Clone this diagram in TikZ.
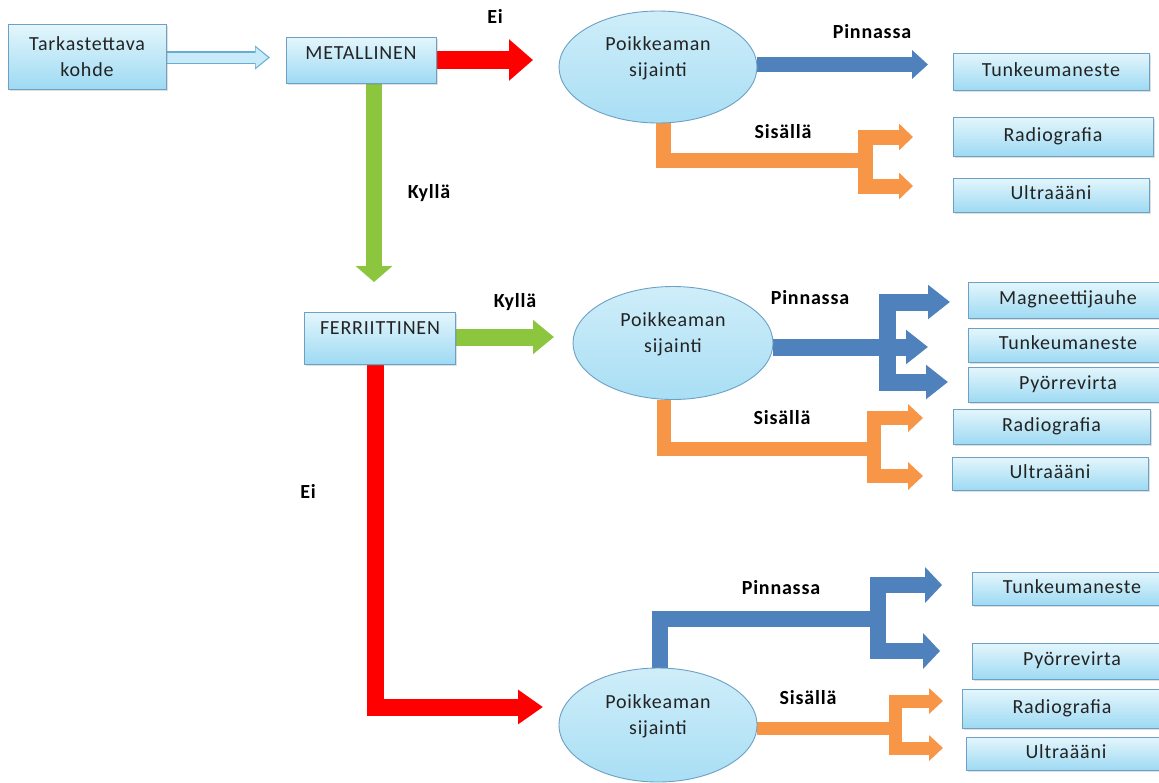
\documentclass[tikz,border=0pt]{standalone}
\usepackage{fontspec}
\setmainfont[LetterSpace=4]{Carlito}
\usepackage{xcolor}
\usepackage{tikz}
\usetikzlibrary{arrows.meta,shapes.geometric,shadows,backgrounds}

\definecolor{boxtop}{RGB}{228,246,252}
\definecolor{boxbottom}{RGB}{158,218,243}
\definecolor{boxedge}{RGB}{108,160,196}
\definecolor{signred}{RGB}{255,0,0}
\definecolor{signgreen}{RGB}{140,198,63}
\definecolor{signblue}{RGB}{79,129,189}
\definecolor{signorange}{RGB}{247,150,70}
\definecolor{paleblue}{RGB}{200,235,249}
\definecolor{paleedge}{RGB}{104,172,212}
\definecolor{textgray}{RGB}{35,35,35}

\newcommand{\diagfont}{\fontsize{20}{26}\selectfont}
\newcommand{\liftby}[2]{\raisebox{#1}[\height][\depth]{#2}}
\newcommand{\sijainti}{\liftby{9pt}{\begin{tabular}{@{}c@{}}Poikkeaman\\sijainti\end{tabular}}}

\tikzset{
  method/.style={rectangle, draw=boxedge, line width=0.9pt, top color=boxtop,
    bottom color=boxbottom, text=textgray, minimum width=196pt, minimum height=35pt,
    inner sep=0pt, text height=13pt, text depth=4pt,
    drop shadow={opacity=0.25, shadow xshift=1.5pt, shadow yshift=-2pt}},
  place/.style={ellipse, draw=boxedge, line width=0.9pt, top color=boxtop!70!boxbottom,
    bottom color=boxbottom!85!boxtop, text=textgray, minimum width=198pt,
    minimum height=112pt, inner sep=0pt},
  answer/.style={font=\diagfont\bfseries, text=black},
  fat/.style n args={3}{line width=#1, line join=miter, -{Triangle[width=#2, length=#3]}},
}

\begin{document}
\begin{tikzpicture}[x=1pt, y=-1pt, font=\diagfont]
\useasboundingbox (0,0) rectangle (1159,782);

% questions
\node[method, minimum width=158pt, minimum height=65pt, align=center,
  text height=, text depth=] (kohde) at (87,56.5) {Tarkastettava\\kohde};
\node[method, minimum width=150pt, minimum height=46pt] (metal) at (361,60) {\liftby{5pt}{METALLINEN}};
\node[method, minimum width=151pt, minimum height=52pt] (ferri) at (380,338) {\liftby{8pt}{FERRIITTINEN}};

% defect location
\node[place] (sij1) at (658,67) {\sijainti};
\node[place, minimum width=200pt, minimum height=113pt] (sij2) at (673,343) {\sijainti};
\node[place, minimum height=114pt] (sij3) at (658,725) {\sijainti};

% methods
\node[method, minimum height=37pt] (tunk1) at (1051,71.5) {Tunkeumaneste};
\node[method, minimum width=200pt, minimum height=39pt] (radio1) at (1053,136.5) {Radiografia};
\node[method, minimum height=34pt] (ultra1) at (1051,195) {Ultraääni};
\node[method, minimum width=200pt, minimum height=36pt] (magn) at (1068,300) {Magneettijauhe};
\node[method, minimum width=200pt, minimum height=34pt] (tunk2) at (1068,345) {Tunkeumaneste};
\node[method, minimum width=200pt, minimum height=35pt] (pyor2) at (1068,384.5) {Pyörrevirta};
\node[method, minimum width=197pt, minimum height=35pt] (radio2) at (1051.5,426.5) {Radiografia};
\node[method, minimum height=33pt] (ultra2) at (1050,473.5) {Ultraääni};
\node[method, minimum width=200pt, minimum height=33pt] (tunk3) at (1072,588.5) {Tunkeumaneste};
\node[method, minimum width=200pt, minimum height=36pt] (pyor3) at (1072,661) {Pyörrevirta};
\node[method, minimum width=200pt, minimum height=39pt] (radio3) at (1062,708.5) {Radiografia};
\node[method, minimum width=200pt, minimum height=33pt] (ultra3) at (1066,753.5) {Ultraääni};

% answers
\node[answer] (ei1) at (495,16) {Ei};
\node[answer] (kylla1) at (429,193) {Kyllä};
\node[answer] (kylla2) at (515,302) {Kyllä};
\node[answer] (ei2) at (308,491) {Ei};
\node[answer] (pin1) at (872,32) {Pinnassa};
\node[answer] (sis1) at (783,132) {Sisällä};
\node[answer] (pin2) at (810,298) {Pinnassa};
\node[answer] (sis2) at (782,418) {Sisällä};
\node[answer] (pin3) at (781,588) {Pinnassa};
\node[answer] (sis3) at (808,698) {Sisällä};

% arrow ends and branch points
\coordinate (t0) at (270,57.5);
\coordinate (rtip1) at (533,60);
\coordinate (gtip1) at (374,282);
\coordinate (gtip2) at (554,337);
\coordinate (rtip2) at (543,707);
\coordinate (btip1) at (928,64.5);
\coordinate (oj1) at (865,160);
\coordinate (otip1a) at (913,137);
\coordinate (otip1b) at (913,186);
\coordinate (bj2) at (887,347);
\coordinate (btip2a) at (950,302);
\coordinate (btip2b) at (928,347);
\coordinate (btip2c) at (948,382);
\coordinate (oj2) at (874,449);
\coordinate (otip2a) at (923,418);
\coordinate (otip2b) at (923,476);
\coordinate (bj3) at (878,619);
\coordinate (btip3a) at (942,585);
\coordinate (btip3b) at (940,651);
\coordinate (oj3) at (895,728);
\coordinate (otip3a) at (943,701);
\coordinate (otip3b) at (943,748);

\begin{scope}[on background layer]
\fill[white] (0,0) rectangle (1159,782);
% start
\draw[line width=12.5pt, paleedge, -{Triangle[width=23pt, length=15pt]}] (kohde.east |- t0) -- (t0);
\draw[line width=10pt, paleblue, -{Triangle[width=19.5pt, length=12.5pt]}] (kohde.east |- t0) -- ([xshift=-2pt]t0);
% metallinen / ferriittinen
\draw[fat={18pt}{40pt}{24pt}, signred] (metal.east |- rtip1) -- (rtip1);
\draw[fat={16pt}{36pt}{16pt}, signgreen] (metal.south -| gtip1) -- (gtip1);
\draw[fat={17pt}{33pt}{21pt}, signgreen] (ferri.east |- gtip2) -- (gtip2);
\draw[fat={17pt}{33pt}{25pt}, signred] ([xshift=-4.5pt]ferri.south) |- (rtip2);
% first location
\draw[fat={15pt}{28pt}{16pt}, signblue] (sij1.east |- btip1) -- (btip1);
\draw[line width=15pt, line join=miter, signorange] ([xshift=5pt]sij1.south) |- (oj1);
\draw[fat={15pt}{26pt}{14pt}, signorange] (oj1) |- (otip1a);
\draw[fat={15pt}{26pt}{14pt}, signorange] (oj1) |- (otip1b);
% second location
\draw[fat={17pt}{33pt}{22pt}, signblue] (sij2.east |- bj2) -- (btip2b);
\draw[fat={17pt}{33pt}{22pt}, signblue] (bj2) |- (btip2a);
\draw[fat={17pt}{33pt}{22pt}, signblue] (bj2) |- (btip2c);
\draw[line width=14pt, line join=miter, signorange] ([xshift=-9pt]sij2.south) |- (oj2);
\draw[fat={14pt}{27pt}{15pt}, signorange] (oj2) |- (otip2a);
\draw[fat={14pt}{27pt}{15pt}, signorange] (oj2) |- (otip2b);
% third location
\draw[line width=16pt, line join=miter, signblue] ([xshift=2pt]sij3.north) |- (bj3);
\draw[fat={16pt}{35pt}{17pt}, signblue] (bj3) |- (btip3a);
\draw[fat={16pt}{35pt}{17pt}, signblue] (bj3) |- (btip3b);
\draw[line width=13pt, signorange] (sij3.east |- oj3) -- (oj3);
\draw[fat={13pt}{25pt}{14pt}, signorange] (oj3) |- (otip3a);
\draw[fat={13pt}{25pt}{14pt}, signorange] (oj3) |- (otip3b);
\end{scope}
\end{tikzpicture}
\end{document}
